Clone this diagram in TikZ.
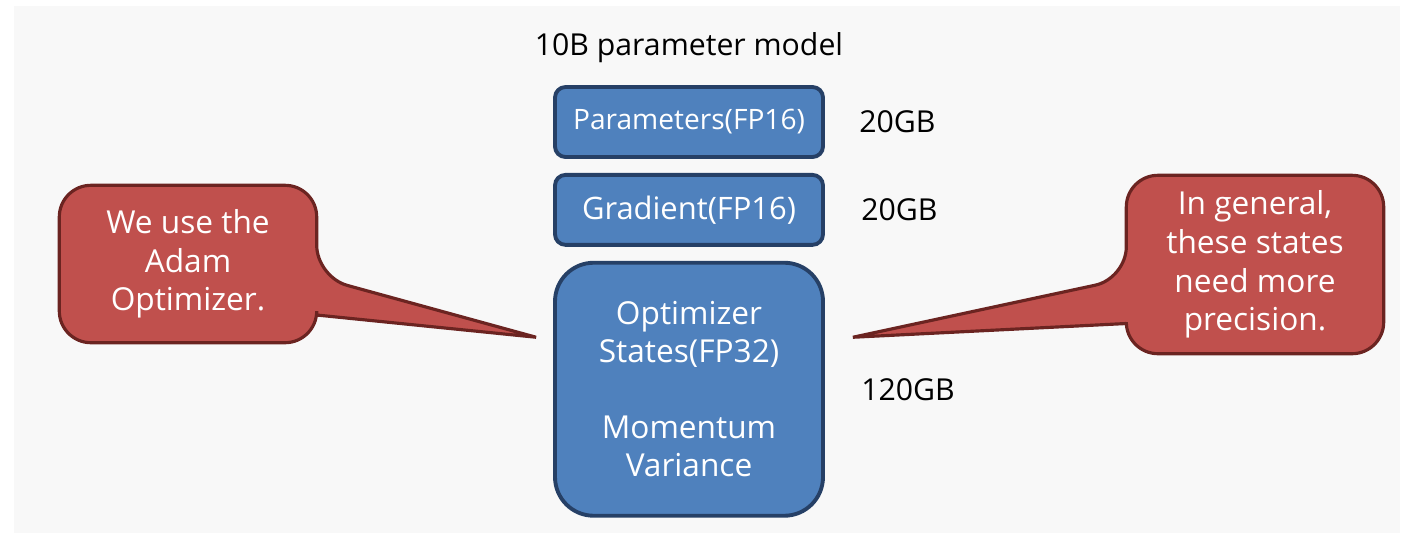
\documentclass[tikz,border=0pt]{standalone}
\usepackage{fontspec}
\setmainfont{Open Sans}
\usetikzlibrary{positioning,calc,backgrounds}
\definecolor{panelgray}{rgb}{0.973,0.973,0.973}
\definecolor{boxblue}{rgb}{0.31,0.506,0.741}
\definecolor{boxnavy}{rgb}{0.15,0.25,0.40}
\definecolor{callred}{rgb}{0.753,0.314,0.302}
\definecolor{callmaroon}{rgb}{0.42,0.14,0.13}

\begin{document}
\begin{tikzpicture}[node distance=0.14cm,
  memblock/.style={draw=boxnavy, line width=1.1pt, fill=boxblue, text=white,
    rounded corners=3pt, minimum width=2.68cm, align=center},
  sizelabel/.style={font=\fontsize{8.6}{11}\selectfont},
  calltext/.style={text=white, align=center, minimum width=2.56cm,
    font=\fontsize{9}{11}\selectfont},
  callshape/.style={draw=callmaroon, line width=0.9pt, fill=callred}]
  \useasboundingbox (0,0) rectangle (14.03,-5.33);
  % Memory blocks
  \node[memblock, minimum height=0.70cm, font=\fontsize{8}{10}\selectfont]
    (params) at (6.89,-1.22) {Parameters(FP16)};
  \node[memblock, minimum height=0.70cm, font=\fontsize{8.8}{10}\selectfont,
    below=of params] (grad) {Gradient(FP16)};
  \node[memblock, minimum height=2.53cm, rounded corners=11pt,
    font=\fontsize{9}{10.8}\selectfont, below=of grad] (optim)
    {Optimizer\\States(FP32)\\[10.8pt]Momentum\\Variance};
  \node[sizelabel, above=0.1cm of params] (title) {10B parameter model};
  % Sizes
  \node[sizelabel, right=0.22cm of params] (szparams) {20GB};
  \node[sizelabel, right=0.24cm of grad] (szgrad) {20GB};
  \node[sizelabel, right=0.24cm of optim] (szoptim) {120GB};
  % Callouts
  \node[calltext, minimum height=1.56cm] (adam) at (1.88,-2.64)
    {We use the\\Adam\\Optimizer.};
  \node[calltext, minimum height=1.77cm] (general) at (12.55,-2.645)
    {In general,\\these states\\need more\\precision.};
  \coordinate (tipL) at ($(optim.west)+(-0.17,0.52)$);
  \coordinate (tipR) at ($(optim.east)+(0.28,0.52)$);
  \begin{scope}[on background layer]
    \fill[panelgray] (0.14,-0.06) rectangle (14.0,-5.33);
    \draw[callshape, rounded corners=9pt] (adam.north west) -- (adam.north east)
      -- ($(adam.east)+(0,-0.13)$) [sharp corners] -- (tipL)
      -- ($(adam.east)+(0,-0.51)$) [rounded corners=9pt] -- (adam.south east)
      -- (adam.south west) -- cycle;
    \draw[callshape, rounded corners=9pt] (general.north east) -- (general.north west)
      -- ($(general.west)+(0,-0.14)$) [sharp corners] -- (tipR)
      -- ($(general.west)+(0,-0.59)$) [rounded corners=9pt] -- (general.south west)
      -- (general.south east) -- cycle;
  \end{scope}
\end{tikzpicture}
\end{document}
